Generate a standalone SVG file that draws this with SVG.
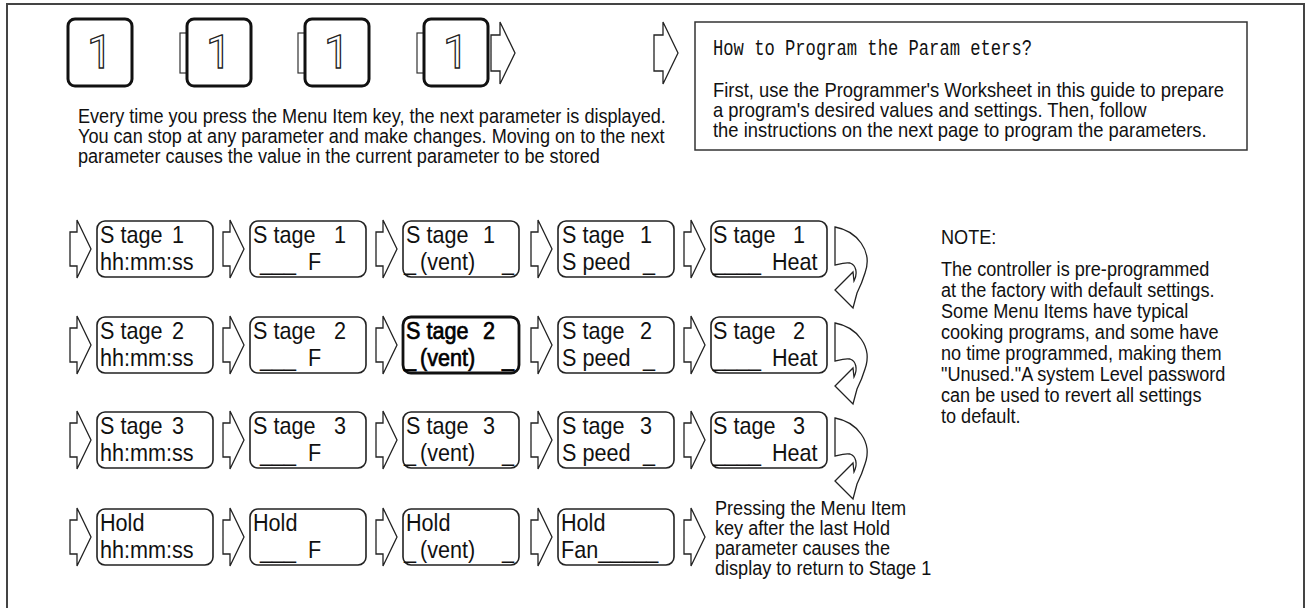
<svg xmlns="http://www.w3.org/2000/svg" width="1306" height="608" viewBox="0 0 1306 608">
<defs>
<style>
.t{font-family:"Liberation Sans",Arial,sans-serif;font-size:20px;fill:#111}
.b{font-family:"Liberation Sans",Arial,sans-serif;font-size:24px;fill:#111}
.bb{font-family:"Liberation Sans",Arial,sans-serif;font-size:24px;fill:#000;stroke:#000;stroke-width:0.7}
.one{font-family:Roboto,"Open Sans",sans-serif;font-size:46px;fill:#fff;stroke:#222;stroke-width:1.3;text-anchor:middle}
.disp{fill:#fff;stroke:#222;stroke-width:1.6}
.dispb{fill:#fff;stroke:#111;stroke-width:2.8}
.arr{fill:#fff;stroke:#222;stroke-width:1.3}
.key{fill:#fff;stroke:#111;stroke-width:3}
.tab{fill:#fff;stroke:#333;stroke-width:1.2}
</style>
<path id="ar" d="M0,12 H7 V0 L21,29 L7,58 V46 H0 Z"/>
<path id="art" d="M0,13 H9 V0 L24,31 L9,62 V49 H0 Z"/>
<path id="curl" d="M8,6 C30,10 46,30 38,52 C35,62 32,68 30,72 L26,87 L8,69 L26,51 L27,60 C31,52 29,44 23,42 C18,41 12,43 8,44 Z"/>
</defs>
<rect x="7" y="4" width="1297" height="640" fill="none" stroke="#444" stroke-width="2"/>
<g id="key1"><rect class="key" x="68" y="19" width="64" height="67" rx="7"/><text class="one" x="100" y="68">1</text></g>
<g id="key2"><rect class="tab" x="180" y="33" width="10" height="40"/><rect class="key" x="187" y="19" width="64" height="67" rx="7"/><text class="one" x="219" y="68">1</text></g>
<g id="key3"><rect class="tab" x="298" y="33" width="10" height="40"/><rect class="key" x="305" y="19" width="64" height="67" rx="7"/><text class="one" x="337" y="68">1</text></g>
<g id="key4"><rect class="tab" x="417" y="33" width="10" height="40"/><rect class="key" x="424" y="19" width="64" height="67" rx="7"/><text class="one" x="456" y="68">1</text></g>
<g id="connectors">
<use href="#art" class="arr" x="491" y="22"/>
<use href="#art" class="arr" x="654" y="22"/>
<use href="#ar" class="arr" x="70" y="220"/><use href="#ar" class="arr" x="223" y="220"/><use href="#ar" class="arr" x="376" y="220"/><use href="#ar" class="arr" x="531" y="220"/><use href="#ar" class="arr" x="684" y="220"/>
<use href="#ar" class="arr" x="70" y="316"/><use href="#ar" class="arr" x="223" y="316"/><use href="#ar" class="arr" x="376" y="316"/><use href="#ar" class="arr" x="531" y="316"/><use href="#ar" class="arr" x="684" y="316"/>
<use href="#ar" class="arr" x="70" y="411"/><use href="#ar" class="arr" x="223" y="411"/><use href="#ar" class="arr" x="376" y="411"/><use href="#ar" class="arr" x="531" y="411"/><use href="#ar" class="arr" x="684" y="411"/>
<use href="#ar" class="arr" x="70" y="508"/><use href="#ar" class="arr" x="223" y="508"/><use href="#ar" class="arr" x="376" y="508"/><use href="#ar" class="arr" x="531" y="508"/><use href="#ar" class="arr" x="684" y="508"/>
<use href="#curl" class="arr" x="827" y="221"/>
<use href="#curl" class="arr" x="827" y="317"/>
<use href="#curl" class="arr" x="827" y="412"/>
</g>
<g id="intro"><text class="t" transform="translate(78,123) scale(0.905,1)"><tspan x="0" y="0">Every time you press the Menu Item key, the next parameter is displayed.</tspan><tspan x="0" y="20">You can stop at any parameter and make changes. Moving on to the next</tspan><tspan x="0" y="40">parameter causes the value in the current parameter to be stored</tspan></text></g>
<g id="howto">
<rect x="695" y="22" width="552" height="128" fill="#fff" stroke="#333" stroke-width="1.5"/>
<text x="713" y="55" font-family="Liberation Mono, monospace" font-size="22" fill="#111" textLength="319" lengthAdjust="spacingAndGlyphs">How to Program the Param eters?</text>
<text class="t" transform="translate(713,97) scale(0.92,1)"><tspan x="0" y="0">First, use the Programmer's Worksheet in this guide to prepare</tspan><tspan x="0" y="20">a program's desired values and settings. Then, follow</tspan><tspan x="0" y="40">the instructions on the next page to program the parameters.</tspan></text>
</g>
<g id="note"><text class="t" transform="translate(941,244) scale(0.905,1)"><tspan x="0" y="0">NOTE:</tspan><tspan x="0" y="32">The controller is pre-programmed</tspan><tspan x="0" y="53">at the factory with default settings.</tspan><tspan x="0" y="74">Some Menu Items have typical</tspan><tspan x="0" y="95">cooking programs, and some have</tspan><tspan x="0" y="116">no time programmed, making them</tspan><tspan x="0" y="137">"Unused."A system Level password</tspan><tspan x="0" y="158">can be used to revert all settings</tspan><tspan x="0" y="179">to default.</tspan></text></g>
<g id="pressing"><text class="t" transform="translate(715,515) scale(0.905,1)"><tspan x="0" y="0">Pressing the Menu Item</tspan><tspan x="0" y="20">key after the last Hold</tspan><tspan x="0" y="40">parameter causes the</tspan><tspan x="0" y="60">display to return to Stage 1</tspan></text></g>

<g id="r1c1" transform="translate(97,221)"><rect class="disp" width="116" height="56" rx="8"/><text class="b" transform="translate(3,22) scale(0.9,1)">S tage</text><text class="b" transform="translate(75,22) scale(0.9,1)">1</text><text class="b" transform="translate(3,49) scale(0.9,1)">hh:mm:ss</text></g>
<g id="r1c2" transform="translate(250,221)"><rect class="disp" width="116" height="56" rx="8"/><text class="b" transform="translate(3,22) scale(0.9,1)">S tage</text><text class="b" transform="translate(84,22) scale(0.9,1)">1</text><text class="b" transform="translate(10,49) scale(0.9,1)">___</text><text class="b" transform="translate(58,49) scale(0.9,1)">F</text></g>
<g id="r1c3" transform="translate(403,221)"><rect class="disp" width="116" height="56" rx="8"/><text class="b" transform="translate(3,22) scale(0.9,1)">S tage</text><text class="b" transform="translate(80,22) scale(0.9,1)">1</text><text class="b" transform="translate(1,49) scale(0.9,1)">_</text><text class="b" transform="translate(17,49) scale(0.9,1)">(vent)</text><text class="b" transform="translate(99,49) scale(0.9,1)">_</text></g>
<g id="r1c4" transform="translate(558,221)"><rect class="disp" width="116" height="56" rx="8"/><text class="b" transform="translate(4,22) scale(0.9,1)">S tage</text><text class="b" transform="translate(82,22) scale(0.9,1)">1</text><text class="b" transform="translate(4,49) scale(0.9,1)">S peed</text><text class="b" transform="translate(85,49) scale(0.9,1)">_</text></g>
<g id="r1c5" transform="translate(711,221)"><rect class="disp" width="116" height="56" rx="8"/><text class="b" transform="translate(2,22) scale(0.9,1)">S tage</text><text class="b" transform="translate(82,22) scale(0.9,1)">1</text><text class="b" transform="translate(2,49) scale(0.9,1)">____</text><text class="b" transform="translate(61,49) scale(0.9,1)">Heat</text></g>

<g id="r2c1" transform="translate(97,317)"><rect class="disp" width="116" height="56" rx="8"/><text class="b" transform="translate(3,22) scale(0.9,1)">S tage</text><text class="b" transform="translate(75,22) scale(0.9,1)">2</text><text class="b" transform="translate(3,49) scale(0.9,1)">hh:mm:ss</text></g>
<g id="r2c2" transform="translate(250,317)"><rect class="disp" width="116" height="56" rx="8"/><text class="b" transform="translate(3,22) scale(0.9,1)">S tage</text><text class="b" transform="translate(84,22) scale(0.9,1)">2</text><text class="b" transform="translate(10,49) scale(0.9,1)">___</text><text class="b" transform="translate(58,49) scale(0.9,1)">F</text></g>
<g id="r2c3" transform="translate(403,317)"><rect class="dispb" width="116" height="56" rx="8"/><text class="bb" transform="translate(3,22) scale(0.9,1)">S tage</text><text class="bb" transform="translate(80,22) scale(0.9,1)">2</text><text class="bb" transform="translate(1,49) scale(0.9,1)">_</text><text class="bb" transform="translate(17,49) scale(0.9,1)">(vent)</text><text class="bb" transform="translate(99,49) scale(0.9,1)">_</text></g>
<g id="r2c4" transform="translate(558,317)"><rect class="disp" width="116" height="56" rx="8"/><text class="b" transform="translate(4,22) scale(0.9,1)">S tage</text><text class="b" transform="translate(82,22) scale(0.9,1)">2</text><text class="b" transform="translate(4,49) scale(0.9,1)">S peed</text><text class="b" transform="translate(85,49) scale(0.9,1)">_</text></g>
<g id="r2c5" transform="translate(711,317)"><rect class="disp" width="116" height="56" rx="8"/><text class="b" transform="translate(2,22) scale(0.9,1)">S tage</text><text class="b" transform="translate(82,22) scale(0.9,1)">2</text><text class="b" transform="translate(2,49) scale(0.9,1)">____</text><text class="b" transform="translate(61,49) scale(0.9,1)">Heat</text></g>

<g id="r3c1" transform="translate(97,412)"><rect class="disp" width="116" height="56" rx="8"/><text class="b" transform="translate(3,22) scale(0.9,1)">S tage</text><text class="b" transform="translate(75,22) scale(0.9,1)">3</text><text class="b" transform="translate(3,49) scale(0.9,1)">hh:mm:ss</text></g>
<g id="r3c2" transform="translate(250,412)"><rect class="disp" width="116" height="56" rx="8"/><text class="b" transform="translate(3,22) scale(0.9,1)">S tage</text><text class="b" transform="translate(84,22) scale(0.9,1)">3</text><text class="b" transform="translate(10,49) scale(0.9,1)">___</text><text class="b" transform="translate(58,49) scale(0.9,1)">F</text></g>
<g id="r3c3" transform="translate(403,412)"><rect class="disp" width="116" height="56" rx="8"/><text class="b" transform="translate(3,22) scale(0.9,1)">S tage</text><text class="b" transform="translate(80,22) scale(0.9,1)">3</text><text class="b" transform="translate(1,49) scale(0.9,1)">_</text><text class="b" transform="translate(17,49) scale(0.9,1)">(vent)</text><text class="b" transform="translate(99,49) scale(0.9,1)">_</text></g>
<g id="r3c4" transform="translate(558,412)"><rect class="disp" width="116" height="56" rx="8"/><text class="b" transform="translate(4,22) scale(0.9,1)">S tage</text><text class="b" transform="translate(82,22) scale(0.9,1)">3</text><text class="b" transform="translate(4,49) scale(0.9,1)">S peed</text><text class="b" transform="translate(85,49) scale(0.9,1)">_</text></g>
<g id="r3c5" transform="translate(711,412)"><rect class="disp" width="116" height="56" rx="8"/><text class="b" transform="translate(2,22) scale(0.9,1)">S tage</text><text class="b" transform="translate(82,22) scale(0.9,1)">3</text><text class="b" transform="translate(2,49) scale(0.9,1)">____</text><text class="b" transform="translate(61,49) scale(0.9,1)">Heat</text></g>

<g id="r4c1" transform="translate(97,509)"><rect class="disp" width="116" height="56" rx="8"/><text class="b" transform="translate(3,22) scale(0.9,1)">Hold</text><text class="b" transform="translate(3,49) scale(0.9,1)">hh:mm:ss</text></g>
<g id="r4c2" transform="translate(250,509)"><rect class="disp" width="116" height="56" rx="8"/><text class="b" transform="translate(3,22) scale(0.9,1)">Hold</text><text class="b" transform="translate(10,49) scale(0.9,1)">___</text><text class="b" transform="translate(58,49) scale(0.9,1)">F</text></g>
<g id="r4c3" transform="translate(403,509)"><rect class="disp" width="116" height="56" rx="8"/><text class="b" transform="translate(3,22) scale(0.9,1)">Hold</text><text class="b" transform="translate(1,49) scale(0.9,1)">_</text><text class="b" transform="translate(17,49) scale(0.9,1)">(vent)</text><text class="b" transform="translate(99,49) scale(0.9,1)">_</text></g>
<g id="r4c4" transform="translate(558,509)"><rect class="disp" width="116" height="56" rx="8"/><text class="b" transform="translate(3,22) scale(0.9,1)">Hold</text><text class="b" transform="translate(3,49) scale(0.9,1)">Fan_____</text></g>
</svg>
